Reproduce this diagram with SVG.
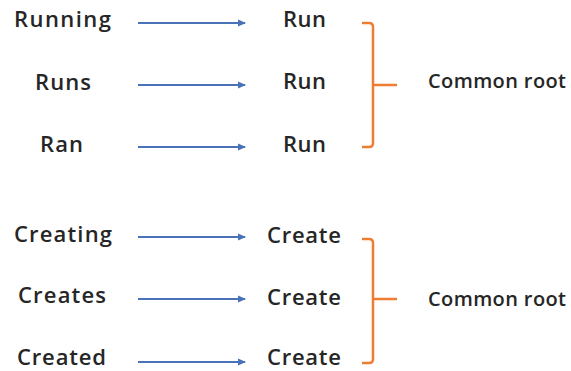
<svg xmlns="http://www.w3.org/2000/svg" width="571" height="371" viewBox="0 0 571 371">
<style>
.w{font-family:"Open Sans","DejaVu Sans",sans-serif;font-weight:600;font-size:22px;fill:#262626}
.c{font-family:"Open Sans","DejaVu Sans",sans-serif;font-weight:600;font-size:20px;fill:#262626}
.a{stroke:#4a72b8;stroke-width:2;fill:none;marker-end:url(#ah)}
.b{stroke:#ed7d31;stroke-width:2.5;fill:none;stroke-linejoin:round}
</style>
<defs>
<marker id="ah" markerWidth="8" markerHeight="8" refX="7" refY="4" orient="auto" markerUnits="userSpaceOnUse">
<path d="M0,0.5 L8,4 L0,7.5 Z" fill="#4a72b8"/>
</marker>
</defs>
<rect width="571" height="371" fill="#fff"/>
<g id="running"><text class="w" x="14" y="27" textLength="97" lengthAdjust="spacing">Running</text></g>
<g id="runs"><text class="w" x="35" y="90" textLength="56" lengthAdjust="spacing">Runs</text></g>
<g id="ran"><text class="w" x="40" y="152" textLength="43" lengthAdjust="spacing">Ran</text></g>
<g id="run1"><text class="w" x="283" y="27" textLength="43" lengthAdjust="spacing">Run</text></g>
<g id="run2"><text class="w" x="283" y="89" textLength="43" lengthAdjust="spacing">Run</text></g>
<g id="run3"><text class="w" x="283" y="152" textLength="43" lengthAdjust="spacing">Run</text></g>
<g id="root1"><text class="c" x="428" y="88" textLength="138" lengthAdjust="spacing">Common root</text></g>
<g id="creating"><text class="w" x="14" y="242" textLength="98" lengthAdjust="spacing">Creating</text></g>
<g id="creates"><text class="w" x="18" y="303" textLength="88" lengthAdjust="spacing">Creates</text></g>
<g id="created"><text class="w" x="17" y="365" textLength="89" lengthAdjust="spacing">Created</text></g>
<g id="create1"><text class="w" x="267" y="243" textLength="74" lengthAdjust="spacing">Create</text></g>
<g id="create2"><text class="w" x="267" y="305" textLength="74" lengthAdjust="spacing">Create</text></g>
<g id="create3"><text class="w" x="267" y="365" textLength="74" lengthAdjust="spacing">Create</text></g>
<g id="root2"><text class="c" x="428" y="306" textLength="138" lengthAdjust="spacing">Common root</text></g>
<g id="connectors">
<line class="a" x1="138" y1="23" x2="245" y2="23"/>
<line class="a" x1="138" y1="85" x2="245" y2="85"/>
<line class="a" x1="138" y1="147" x2="245" y2="147"/>
<line class="a" x1="138" y1="237" x2="245" y2="237"/>
<line class="a" x1="138" y1="299" x2="245" y2="299"/>
<line class="a" x1="138" y1="362" x2="245" y2="362"/>
<path class="b" d="M362,23 H369 Q373,23 373,27 V143 Q373,147 369,147 H362 M373,85 H397"/>
<path class="b" d="M362,239 H369 Q373,239 373,243 V359 Q373,363 369,363 H362 M373,299 H397"/>
</g>
</svg>
